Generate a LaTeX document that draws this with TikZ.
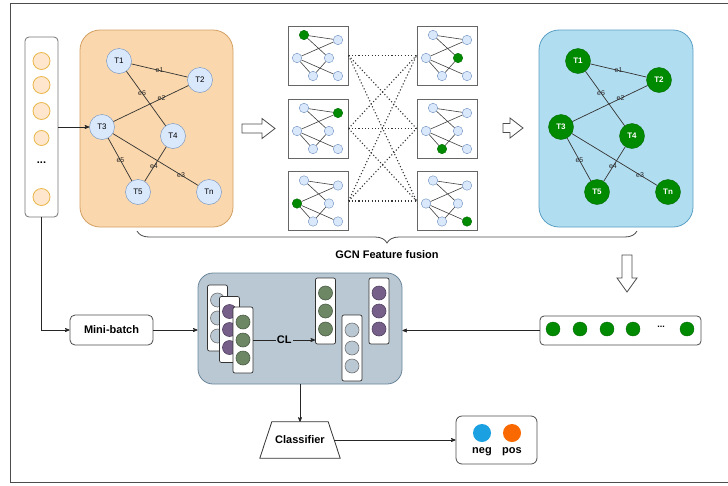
\documentclass[tikz,border=0pt]{standalone}
\usepackage{fontspec}
\setmainfont{Liberation Sans}
\usetikzlibrary{decorations.pathreplacing,shapes,arrows,positioning}

\definecolor{orfill}{HTML}{FAD7AC}
\definecolor{orline}{HTML}{D3A064}
\definecolor{odfill}{HTML}{FFE6CC}
\definecolor{odline}{HTML}{E8B84A}
\definecolor{bxfill}{HTML}{B1DDF0}
\definecolor{bxline}{HTML}{5A9FC4}
\definecolor{tfill}{HTML}{DAE8FC}
\definecolor{tline}{HTML}{6C8EBF}
\definecolor{gfill}{HTML}{008A00}
\definecolor{gline}{HTML}{006B00}
\definecolor{clfill}{HTML}{BAC8D3}
\definecolor{clline}{HTML}{6A8599}
\definecolor{vgrayc}{HTML}{BAC8D3}
\definecolor{vpurplec}{HTML}{76608A}
\definecolor{vgreenc}{HTML}{6D8764}
\definecolor{negc}{HTML}{1BA1E2}
\definecolor{posc}{HTML}{FA6800}

\begin{document}
\begin{tikzpicture}[x=1pt,y=-1pt,>=stealth',
  every node/.style={inner sep=0pt},
  bold/.style={font=\fontsize{11}{13}\selectfont\bfseries},
  tnode/.style={circle,draw=tline,fill=tfill,minimum size=25pt,font=\fontsize{8}{9}\selectfont},
  gnode/.style={circle,draw=gline,fill=gfill,minimum size=25pt,text=white,font=\fontsize{8}{9}\selectfont\bfseries},
  elabel/.style={font=\fontsize{7}{8}\selectfont,text=black!85},
  gedge/.style={draw=black!80,line width=0.7pt},
  sbox/.style={draw=black!60,fill=white,line width=1pt,minimum width=60pt,minimum height=59pt},
  sdot/.style={circle,draw=tline,fill=tfill,minimum size=9.5pt},
  shot/.style={circle,draw=gline,fill=gfill,minimum size=9.5pt},
  sedge/.style={draw=black!75,line width=0.6pt},
  dotline/.style={line width=1.1pt,dash pattern=on 1.1pt off 2.2pt,black!80},
  hollow/.style={draw=black!70,fill=white,line width=0.8pt},
  vecbox/.style={draw=black!80,fill=white,rounded corners=2pt,minimum width=20pt,minimum height=66pt,line width=0.7pt},
  vgray/.style={circle,draw=black!55,fill=vgrayc,minimum size=14pt,line width=0.6pt},
  vpurple/.style={circle,draw=vpurplec!70!black,fill=vpurplec,minimum size=14pt,line width=0.6pt},
  vgreen/.style={circle,draw=vgreenc!70!black,fill=vgreenc,minimum size=14pt,line width=0.6pt},
  gdot/.style={circle,draw=gline,fill=gfill,minimum size=14pt},
  conn/.style={->,draw=black!85,line width=0.7pt}]
\useasboundingbox (0,0) rectangle (728,485);

% outer frame
\draw[black!70,line width=1pt] (728,3) -- (10.5,3) -- (10.5,482.5) -- (728,482.5);

% input column
\node[draw=black!55,rounded corners=4pt,minimum width=33pt,minimum height=180pt,line width=0.8pt] (col) at (41.5,127) {};
\foreach \y/\s [count=\n] in {61/17,85/17,111/17,138/15,197/17}
  \node[circle,draw=odline,fill=odfill,minimum size=\s pt,line width=0.8pt] (O\n) at (41.5,\y) {};
\node[bold] (Odots) at (41.5,163) {...};

% graph panels
\node[draw=orline,fill=orfill,rounded corners=20pt,minimum width=153pt,minimum height=197pt,line width=0.8pt] (panelL) at (156.5,128.5) {};
\node[draw=bxline,fill=bxfill,rounded corners=20pt,minimum width=154pt,minimum height=197pt,line width=0.8pt] (panelR) at (616,128.5) {};

\foreach \g/\dx/\st in {L/0/tnode,R/459/gnode}{
  \foreach \t/\x/\y in {T1/119/61,T2/200/80,T3/102/127,T4/173/136,T5/138/192,Tn/209/192}
    \node[\st] (\g\t) at ({\x+\dx},\y) {\t};
  \path[gedge]
    (\g T1) edge node[elabel,pos=0.5]{e1} (\g T2)
    (\g T2) edge node[elabel,pos=0.36]{e2} (\g T3)
    (\g T3) edge node[elabel,pos=0.8]{e3} (\g Tn)
    (\g T4) edge node[elabel,pos=0.57]{e4} (\g T5)
    (\g T3) edge node[elabel,pos=0.52]{e5} (\g T5)
    (\g T1) edge node[elabel,pos=0.4]{e6} (\g T4);
}

\draw[conn] (col.east |- LT3) -- (LT3);

% small graphs
\foreach \bx/\by/\hot [count=\n] in {318/55.5/1,318/128.5/2,318/201/3,447/55.5/4,447/128.5/5,447/201/6}{
  \node[sbox] (S\n) at (\bx,\by) {};
  \foreach \dx/\dy [count=\k] in {-14/-20.5,20/-15.5,-21/2.5,11/2.5,-5/20.5,20/20.5}{
    \ifnum\k=\hot\def\sst{shot}\else\def\sst{sdot}\fi
    \node[\sst] (S\n-\k) at ({\bx+\dx},{\by+\dy}) {};
  }
  \draw[sedge] (S\n-1) -- (S\n-2) (S\n-2) -- (S\n-3) (S\n-1) -- (S\n-4)
    (S\n-3) -- (S\n-6) (S\n-3) -- (S\n-5) (S\n-4) -- (S\n-5);
}
\foreach \a in {1,2,3}
  \foreach \b in {4,5,6}
    \draw[dotline] (S\a.east) -- (S\b.west);

% hollow arrows
\draw[hollow] (242,124) -- (262,124) -- (262,118.5) -- (275,128.5) -- (262,138.5) -- (262,133) -- (242,133) -- cycle;
\draw[hollow] (503,123.5) -- (510,123.5) -- (510,118) -- (523,128) -- (510,138) -- (510,132.5) -- (503,132.5) -- cycle;
\draw[hollow] (622,255) -- (632,255) -- (632,278) -- (637,278) -- (627,292) -- (617,278) -- (622,278) -- cycle;

% brace
\draw[black!70,line width=0.8pt,decorate,decoration={brace,mirror,amplitude=12pt}] (137,231) -- (637,231);
\node[bold] (fusion) at (387,255) {GCN Feature fusion};

% fused features
\node[draw=black!70,rounded corners=4pt,minimum width=161pt,minimum height=29pt,line width=0.8pt] (gbar) at (620.5,330.5) {};
\foreach \x [count=\n] in {553,580,607,633,687}
  \node[gdot] (G\n) at (\x,329) {};
\node[font=\fontsize{9}{10}\selectfont\bfseries] (Gdots) at (661,327) {...};

% contrastive block
\node[draw=clline,fill=clfill,rounded corners=15pt,minimum width=204pt,minimum height=111pt,line width=0.8pt] (cl) at (300,328.5) {};
\foreach \x/\y/\c [count=\n] in {217.5/318/vgray,229.5/329.5/vpurple,243/340/vgreen,325.5/311/vgreen,352/348/vgray,379/311/vpurple}{
  \node[vecbox] (V\n) at (\x,\y) {};
  \foreach \k [count=\m] in {-18,0,18}
    \node[\c] (V\n-\m) at (\x,{\y+\k}) {};
}
\draw[conn] (V3.east) -- node[bold,fill=clfill,inner sep=1pt]{CL} (V3.east -| V4.west);

% mini-batch and classifier
\node[draw=black!70,rounded corners=5pt,minimum width=83pt,minimum height=30pt,line width=0.8pt,bold] (mb) at (111.5,330) {Mini-batch};
\draw[conn] (col.south) |- (mb.west);
\draw[conn] (mb.east) -- (mb.east -| cl.west);
\draw[conn] (gbar.west) -- (gbar.west -| cl.east);

\node[minimum width=80pt,minimum height=36pt,bold] (clf) at (300,440) {Classifier};
\draw[black!80,line width=0.8pt] (clf.south west) -- (clf.south east) -- ([xshift=-12pt]clf.north east) -- ([xshift=12pt]clf.north west) -- cycle;
\draw[conn] (cl.south) -- (clf.north);

\node[draw=black!70,rounded corners=6pt,minimum width=81pt,minimum height=48pt,line width=0.8pt] (res) at (496.5,440) {};
\node[circle,fill=negc,minimum size=18pt] (neg) at (482,433) {};
\node[circle,fill=posc,minimum size=18pt] (pos) at (512,433) {};
\node[bold] (negl) at (482,452) {neg};
\node[bold] (posl) at (512,452) {pos};
\draw[conn] ([xshift=-6pt]clf.east) -- (res.west);
\end{tikzpicture}
\end{document}
